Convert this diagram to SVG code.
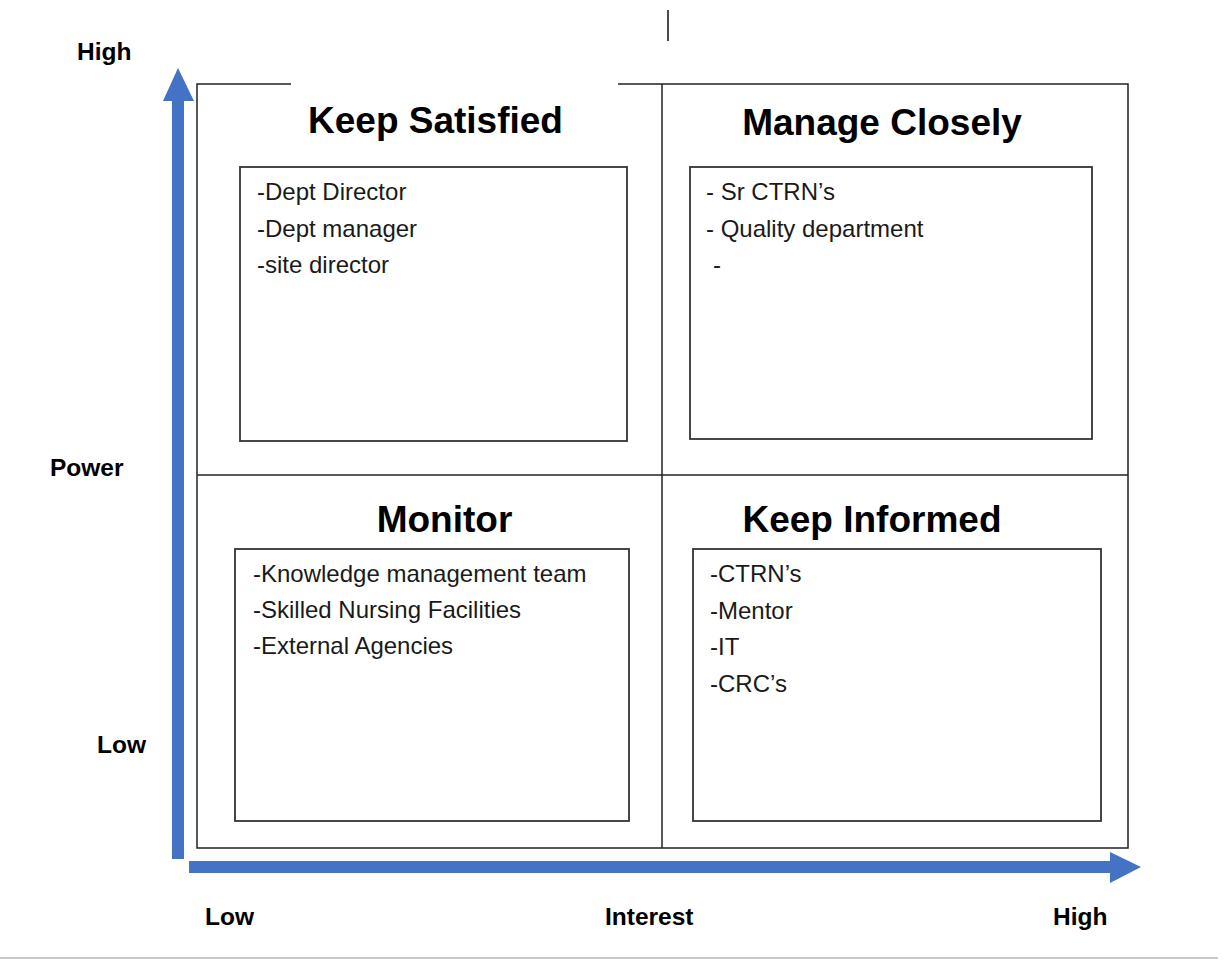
<svg xmlns="http://www.w3.org/2000/svg" width="1225" height="961" viewBox="0 0 1225 961">
<style>
  .axis { font-family: "Liberation Sans", Arial, sans-serif; font-weight: bold; font-size: 24.5px; fill: #000; }
  .title { font-family: "Liberation Sans", Arial, sans-serif; font-weight: bold; font-size: 37px; fill: #000; text-anchor: middle; }
  .item { font-family: "Liberation Sans", Arial, sans-serif; font-size: 24px; fill: #1a1a1a; }
  .frame { fill: none; stroke: #222; stroke-width: 1.5; }
  .box { fill: #fff; stroke: #333; stroke-width: 1.8; }
  .arrow { fill: #4472C4; }
</style>
<rect x="0" y="0" width="1225" height="961" fill="#fff"/>
<line x1="668" y1="10" x2="668" y2="41" stroke="#111" stroke-width="1.5"/>
<line x1="0" y1="958" x2="1218" y2="958" stroke="#c8c8c8" stroke-width="2"/>

<g id="frame">
  <path class="frame" d="M291,84 H197 V848 H1128 V84 H618"/>
  <line class="frame" x1="662" y1="84" x2="662" y2="848"/>
  <line class="frame" x1="197" y1="475" x2="1128" y2="475"/>
</g>

<g id="connectors">
  <g id="power-axis">
    <rect class="arrow" x="172" y="100" width="12" height="759"/>
    <polygon class="arrow" points="163,101 178,68 194,101"/>
  </g>
  <g id="interest-axis">
    <rect class="arrow" x="189" y="861" width="922" height="12"/>
    <polygon class="arrow" points="1110,852 1141,867 1110,883"/>
  </g>
</g>

<g id="axis-labels">
  <text class="axis" x="77" y="60">High</text>
  <text class="axis" x="50" y="476">Power</text>
  <text class="axis" x="97" y="753">Low</text>
  <text class="axis" x="205" y="925">Low</text>
  <text class="axis" x="605" y="925">Interest</text>
  <text class="axis" x="1053" y="925">High</text>
</g>

<g id="keep-satisfied">
  <text class="title" x="435.5" y="133">Keep Satisfied</text>
  <rect class="box" x="240" y="167" width="387" height="274"/>
  <text class="item" x="257" y="200">-Dept Director</text>
  <text class="item" x="257" y="237">-Dept manager</text>
  <text class="item" x="257" y="273">-site director</text>
</g>

<g id="manage-closely">
  <text class="title" x="882" y="135">Manage Closely</text>
  <rect class="box" x="690" y="167" width="402" height="272"/>
  <text class="item" x="706" y="200">- Sr CTRN’s</text>
  <text class="item" x="706" y="237">- Quality department</text>
  <text class="item" x="713" y="273">-</text>
</g>

<g id="monitor">
  <text class="title" x="444.5" y="532">Monitor</text>
  <rect class="box" x="235" y="549" width="394" height="272"/>
  <text class="item" x="253" y="582">-Knowledge management team</text>
  <text class="item" x="253" y="618">-Skilled Nursing Facilities</text>
  <text class="item" x="253" y="654">-External Agencies</text>
</g>

<g id="keep-informed">
  <text class="title" x="872" y="532">Keep Informed</text>
  <rect class="box" x="693" y="549" width="408" height="272"/>
  <text class="item" x="710" y="582">-CTRN’s</text>
  <text class="item" x="710" y="619">-Mentor</text>
  <text class="item" x="710" y="655">-IT</text>
  <text class="item" x="710" y="692">-CRC’s</text>
</g>
</svg>
